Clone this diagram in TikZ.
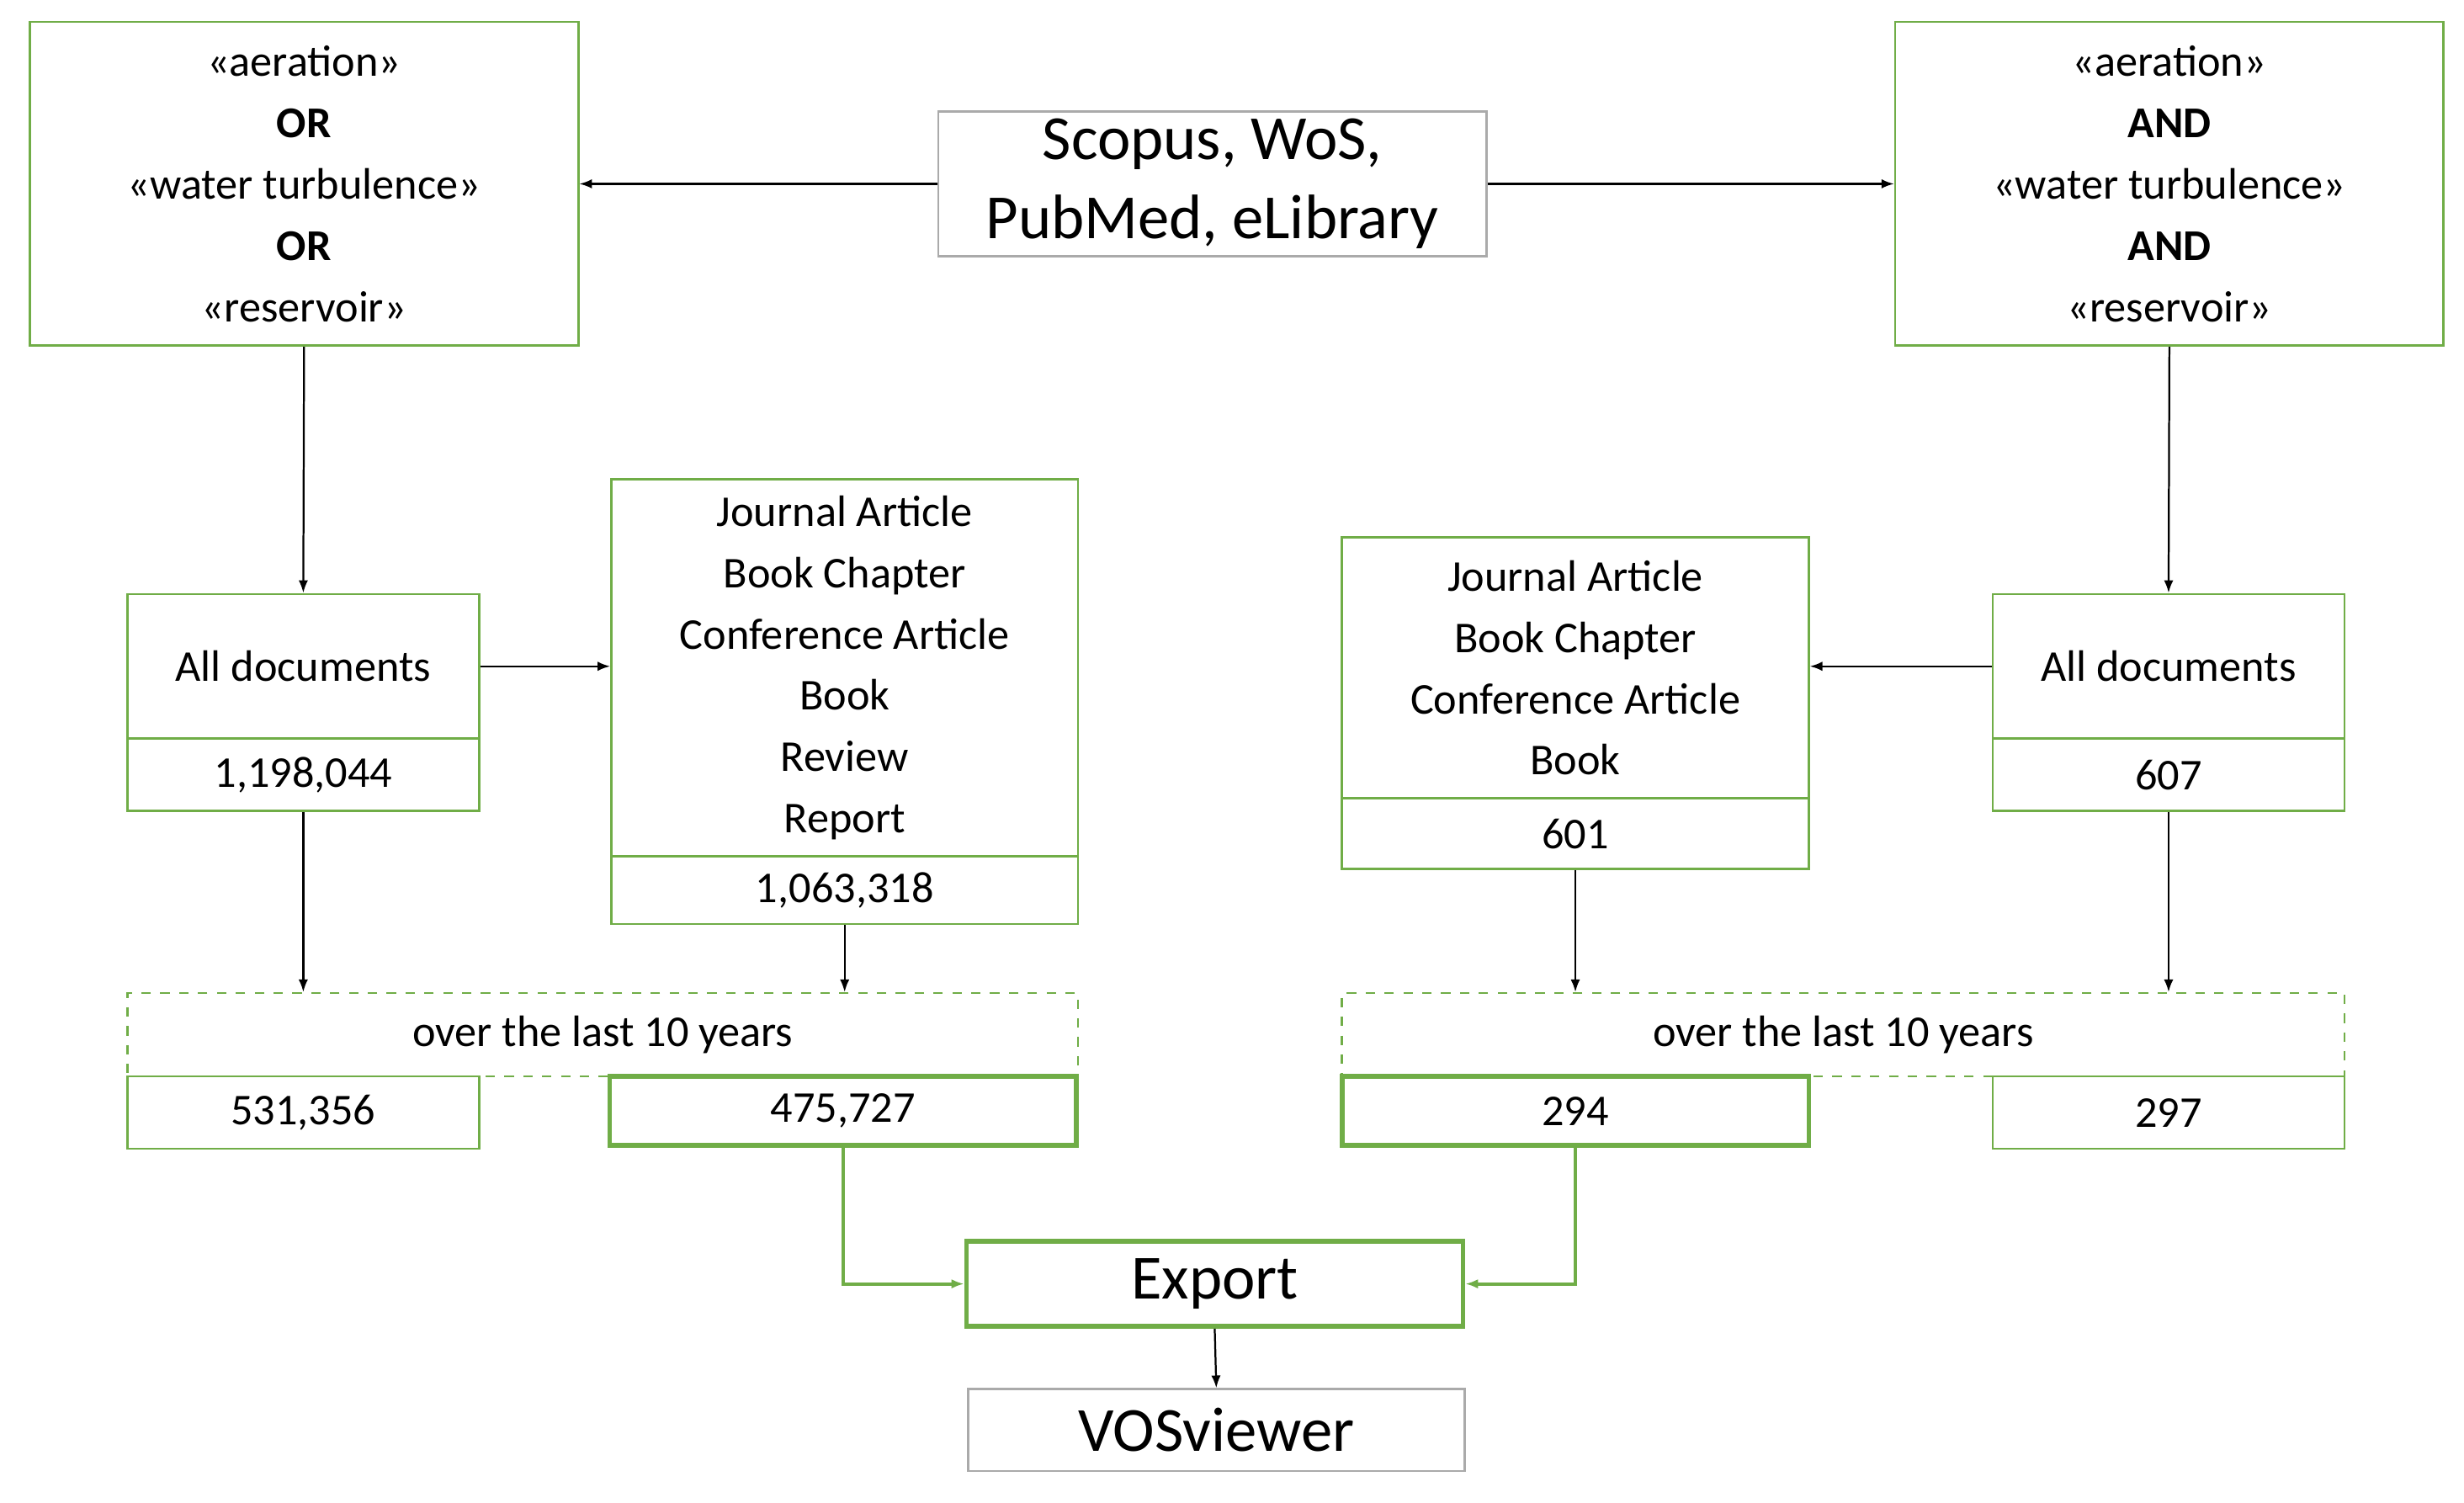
\documentclass[tikz,border=0pt]{standalone}
\usepackage{fontspec}
\setmainfont{Carlito}
\usetikzlibrary{arrows.meta}
\definecolor{gr}{RGB}{112,173,71}
\definecolor{gy}{RGB}{170,170,170}
\begin{document}
\begin{tikzpicture}[x=0.5pt,y=-0.5pt,
  box/.style={draw=gr,line width=0.7pt,inner sep=0pt,align=center,font=\fontsize{14}{19.5}\selectfont},
  tbox/.style={box,line width=1.5pt},
  gbox/.style={box,draw=gy,font=\fontsize{20}{25}\selectfont},
  arr/.style={-{Latex[length=4pt,width=3pt]},line width=0.6pt},
  garr/.style={arr,draw=gr,line width=1.1pt}]
\useasboundingbox (0,0) rectangle (1568,956);
\node[box,minimum width=174.5pt,minimum height=103pt] (lq) at (193.5,117) {«aeration»\\\textbf{OR}\\«water turbulence»\\\textbf{OR}\\«reservoir»};
\node[gbox,minimum width=174.5pt,minimum height=46pt] (sc) at (771.5,117) {Scopus, WoS,\\PubMed, eLibrary};
\node[box,minimum width=174.5pt,minimum height=103pt] (rq) at (1380.5,117) {«aeration»\\\textbf{AND}\\«water turbulence»\\\textbf{AND}\\«reservoir»};
\node[box,minimum width=112pt,minimum height=46pt] (lad) at (193,424) {All documents};
\node[box,minimum width=112pt,minimum height=23pt] (ladn) at (193,493) {1,198,044};
\node[box,minimum width=148.5pt,minimum height=120pt] (lty) at (537.5,425) {Journal Article\\Book Chapter\\Conference Article\\Book\\Review\\Report};
\node[box,minimum width=148.5pt,minimum height=21.5pt] (ltyn) at (537.5,566.5) {1,063,318};
\node[box,minimum width=148.5pt,minimum height=83pt] (rty) at (1002.5,425) {Journal Article\\Book Chapter\\Conference Article\\Book};
\node[box,minimum width=148.5pt,minimum height=22.5pt] (rtyn) at (1002.5,530.5) {601};
\node[box,minimum width=112pt,minimum height=46pt] (rad) at (1380,424) {All documents};
\node[box,minimum width=112pt,minimum height=23pt] (radn) at (1380,493) {607};
\node[box,dashed,minimum width=302.5pt,minimum height=26.5pt] (ld) at (383.5,658.5) {over the last 10 years};
\node[box,dashed,minimum width=319pt,minimum height=26.5pt] (rd) at (1173,658.5) {over the last 10 years};
\node[box,fill=white,minimum width=112pt,minimum height=23pt] (l1) at (193,708) {531,356};
\node[tbox,fill=white,minimum width=148.5pt,minimum height=22pt] (l2) at (536.5,707) {475,727};
\node[tbox,fill=white,minimum width=148.5pt,minimum height=22pt] (r1) at (1002.5,707) {294};
\node[box,fill=white,minimum width=112pt,minimum height=23pt] (r2) at (1380,708) {297};
\node[tbox,font=\fontsize{20}{25}\selectfont,minimum width=158pt,minimum height=27pt] (ex) at (773,817) {Export};
\node[gbox,minimum width=158pt,minimum height=26pt] (vos) at (774,910) {VOSviewer};
\draw[arr] (sc.west) -- (lq.east);
\draw[arr] (sc.east) -- (rq.west);
\draw[arr] (lq.south) -- (lad.north);
\draw[arr] (rq.south) -- (rad.north);
\draw[arr] (lad.east) -- (lad.east -| lty.west);
\draw[arr] (rad.west) -- (rad.west -| rty.east);
\draw[arr] (ladn.south) -- (ladn.south |- ld.north);
\draw[arr] (ltyn.south) -- (ltyn.south |- ld.north);
\draw[arr] (rtyn.south) -- (rtyn.south |- rd.north);
\draw[arr] (radn.south) -- (radn.south |- rd.north);
\draw[garr] (l2.south) |- (ex.west);
\draw[garr] (r1.south) |- (ex.east);
\draw[arr] (ex.south) -- (vos.north);
\end{tikzpicture}
\end{document}
